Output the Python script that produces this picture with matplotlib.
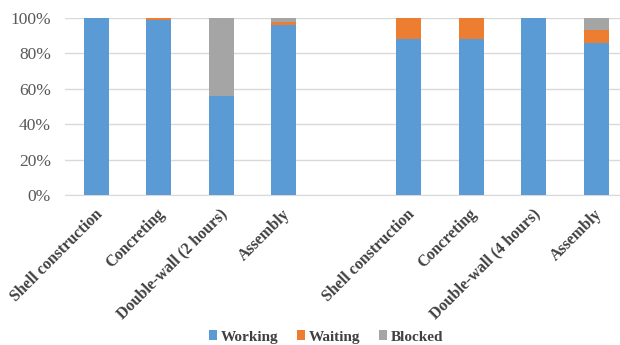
import matplotlib
matplotlib.use("Agg")
import matplotlib.pyplot as plt
import matplotlib.transforms as mtransforms
import numpy as np

categories = ["Shell construction", "Concreting", "Double-wall (2 hours)", "Assembly", "",
              "Shell construction", "Concreting", "Double-wall (4 hours)", "Assembly"]
working = [100, 99, 56, 96, 0, 88, 88, 100, 86]
waiting = [0, 1, 0, 2, 0, 12, 12, 0, 7]
blocked = [0, 0, 44, 2, 0, 0, 0, 0, 7]
yticks = [0, 20, 40, 60, 80, 100]

colors = {"Working": "#5B9BD5", "Waiting": "#ED7D31", "Blocked": "#A5A5A5"}

plt.rcParams['font.family'] = ['Liberation Serif', 'DejaVu Serif']

fig = plt.figure(figsize=(6.2, 3.45), dpi=100)
ax = fig.add_axes([65/620, 1-195/345, 555/620, 177/345])

x = np.arange(len(categories))
w = np.array(working) / 100
wt = np.array(waiting) / 100
b = np.array(blocked) / 100
bw = 0.4
ax.bar(x, w, bw, color=colors["Working"], label="Working", zorder=3)
ax.bar(x, wt, bw, bottom=w, color=colors["Waiting"], label="Waiting", zorder=3)
ax.bar(x, b, bw, bottom=w + wt, color=colors["Blocked"], label="Blocked", zorder=3)

ax.set_xlim(-0.5, 8.38)
ax.set_ylim(0, 1)
ax.set_yticks([t / 100 for t in yticks])
ax.set_yticklabels([f"{t}%" for t in yticks], fontsize=12.5, color="#595959")
ax.yaxis.grid(True, color="#D9D9D9", linewidth=1, zorder=0)
ax.set_xticks(x)
ax.set_xticklabels([])
trans = mtransforms.blended_transform_factory(ax.transData, ax.transAxes) + \
    mtransforms.ScaledTranslation(-2/100, -11/100, fig.dpi_scale_trans)
for xi, lab in zip(x, categories):
    ax.text(xi, 0, lab, transform=trans, rotation=45, ha="right", va="top",
            rotation_mode="anchor", fontsize=11.5, fontweight="bold", color="#404040")
ax.tick_params(axis="both", length=0)
ax.tick_params(axis="y", pad=10)
for s in ["top", "right", "left"]:
    ax.spines[s].set_visible(False)
ax.spines["bottom"].set_color("#D9D9D9")

leg = fig.legend(loc="center", bbox_to_anchor=(326/620, 1-337/345), ncol=3, frameon=False,
                 prop={"size": 11, "weight": "bold"}, handlelength=0.55, handleheight=0.6,
                 handletextpad=0.25, columnspacing=1.2)
for t in leg.get_texts():
    t.set_color("#404040")

fig.savefig("out.png", dpi=100)
